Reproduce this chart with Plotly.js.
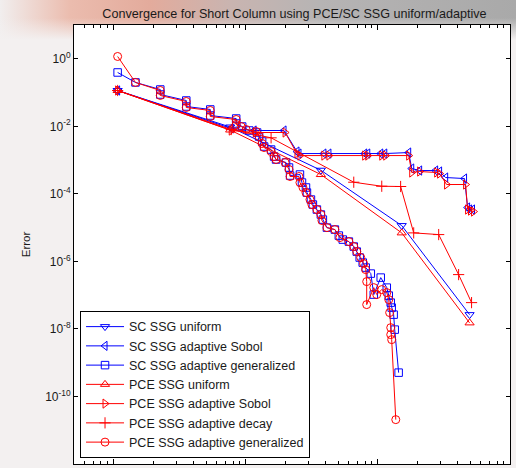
<!DOCTYPE html>
<html>
<head>
<meta charset="utf-8">
<script src="https://cdn.plot.ly/plotly-3.0.1.min.js"></script>
<style>
  html, body { margin: 0; padding: 0; }
  body {
    width: 516px; height: 468px; overflow: hidden;
    background:
      linear-gradient(to bottom, rgba(255,255,255,0) 0px, rgba(255,255,255,0) 18px, rgba(243,240,240,1) 40px),
      linear-gradient(to right, #f1eeee 0px, #ebbcae 70px, #e3ab9c 150px, #c9b4b0 230px, #b6b4b4 320px, #a9a9a9 516px);
  }
  #chart { width: 516px; height: 468px; }
</style>
</head>
<body>
<div id="chart"></div>
<script>
// ---- data (x = number of evaluations, y = error) ----
const scUniformX = [10.7, 76.1, 369.8, 1514, 4943];
const scUniformY = [0.115, 0.00953, 0.000500, 1.15e-5, 2.65e-8];

const pceUniformX = [10.7, 76.1, 369.8, 1514, 4943];
const pceUniformY = [0.115, 0.00777, 0.000373, 6.98e-6, 1.51e-8];

const scSobolX = [10.7, 77.5, 115.5, 194.6, 243.9, 252.5, 389.9, 425.6, 794.3, 837.5, 1050, 1127, 1710, 1803, 2070, 2735, 2931, 3258, 4529, 4775, 4943, 5200];
const scSobolY = [0.115, 0.00861, 0.00751, 0.00751, 0.00179, 0.00156, 0.00156, 0.00156, 0.00156, 0.00156, 0.00156, 0.00156, 0.00167, 0.000562, 0.000490, 0.000490, 0.000458, 0.000304, 0.000284, 3.93e-5, 3.43e-5, 3.43e-5];

const pceSobolX = [10.7, 77.5, 118, 198.2, 243.9, 256.8, 389.9, 425.6, 794.3, 837.5, 1069, 1146, 1710, 1803, 2070, 2786, 2931, 3311, 4613, 4775, 5023, 5297];
const pceSobolY = [0.115, 0.00751, 0.00655, 0.00655, 0.00156, 0.00136, 0.00136, 0.00136, 0.00136, 0.00136, 0.00136, 0.00136, 0.00136, 0.000428, 0.000458, 0.000428, 0.000399, 0.000189, 0.000189, 3.43e-5, 3.20e-5, 2.99e-5];

const pceDecayX = [10.7, 77.5, 155.3, 656.1, 1069, 1486, 1866, 2884, 4083, 5117];
const pceDecayY = [0.115, 0.00804, 0.00456, 0.000221, 0.000168, 0.000165, 6.98e-6, 6.22e-6, 4.06e-7, 6.01e-8];

const scGenX = [10.7, 14.6, 22.5, 22.5, 35.4, 35.4, 53.8, 53.8, 84.5, 84.5, 93.8, 106, 121.7, 126, 132.8, 137.5, 155.3, 163.7, 169.4, 201.4, 212.3, 216.3, 256.8, 266.1, 285.3, 290.2, 311.1, 321.8, 345.1, 369.8, 383, 411.1, 472.1, 505.8, 542, 602.6, 656.1, 691.8, 727.8, 767.4, 808.1, 883.1, 930.6, 1050, 1167, 1208, 1250, 1271, 1315, 1340, 1435];
const scGenY = [0.393, 0.199, 0.123, 0.0875, 0.0581, 0.0386, 0.0315, 0.0209, 0.0170, 0.0121, 0.00985, 0.00751, 0.00655, 0.00499, 0.00355, 0.00252, 0.00205, 0.00127, 0.00104, 0.000846, 0.000601, 0.000348, 0.000373, 0.000216, 0.000154, 0.000109, 6.78e-5, 4.82e-5, 3.43e-5, 2.44e-5, 1.73e-5, 1.00e-5, 8.75e-6, 5.81e-6, 4.42e-6, 3.86e-6, 2.75e-6, 1.95e-6, 1.30e-6, 9.21e-7, 6.55e-7, 4.35e-7, 1.04e-7, 3.31e-7, 1.67e-7, 9.70e-8, 6.01e-8, 4.28e-8, 2.65e-8, 9.53e-9, 5.07e-10];

const pceGenX = [10.7, 14.6, 22.5, 22.5, 35.4, 35.4, 53.8, 53.8, 84.5, 84.5, 92.2, 100.5, 119.7, 126, 132.8, 137.5, 155.3, 163.7, 169.4, 198.2, 212.3, 216.3, 252.5, 256.8, 270.8, 285.3, 305.8, 316.2, 345.1, 369.8, 376.7, 411.1, 472.1, 515.2, 602.6, 656.1, 691.8, 741.3, 779.8, 808.1, 822.2, 822.2, 930.6, 979.5, 1069, 1167, 1208, 1227, 1250, 1250, 1271, 1365];
const pceGenY = [1.17, 0.199, 0.115, 0.0818, 0.0543, 0.0361, 0.0294, 0.0195, 0.0159, 0.0113, 0.00985, 0.00804, 0.00701, 0.00499, 0.00309, 0.00235, 0.00179, 0.00127, 0.00104, 0.000846, 0.000525, 0.000326, 0.000326, 0.000216, 0.000154, 0.000109, 6.78e-5, 4.82e-5, 3.43e-5, 2.44e-5, 1.62e-5, 1.00e-5, 8.75e-6, 5.07e-6, 3.86e-6, 2.75e-6, 1.95e-6, 1.30e-6, 8.61e-7, 5.71e-7, 2.52e-7, 5.25e-8, 1.67e-7, 1.04e-7, 1.46e-7, 1.19e-7, 7.38e-8, 3.04e-8, 1.09e-8, 6.78e-9, 4.82e-9, 2.06e-11];

const seriesNames = ["SC SSG uniform", "SC SSG adaptive Sobol", "SC SSG adaptive generalized",
                     "PCE SSG uniform", "PCE SSG adaptive Sobol", "PCE SSG adaptive decay", "PCE SSG adaptive generalized"];
const yTickVals = [1e-12, 1e-10, 1e-8, 1e-6, 1e-4, 1e-2, 1e0];
const yTickText = ["10<sup>-12</sup>", "10<sup>-10</sup>", "10<sup>-8</sup>", "10<sup>-6</sup>", "10<sup>-4</sup>", "10<sup>-2</sup>", "10<sup>0</sup>"];

const BLUE = "#0000ff", RED = "#ff0000";
function tr(x, y, name, color, symbol, size) {
  return {
    x: x, y: y, name: name, type: "scatter", mode: "lines+markers",
    line: { color: color, width: 1 },
    marker: { symbol: symbol, size: size, color: color, line: { color: color, width: 1 } }
  };
}
const data = [
  tr(scUniformX, scUniformY, seriesNames[0], BLUE, "triangle-down-open", 8),
  tr(scSobolX, scSobolY, seriesNames[1], BLUE, "triangle-left-open", 8),
  tr(scGenX, scGenY, seriesNames[2], BLUE, "square-open", 7.5),
  tr(pceUniformX, pceUniformY, seriesNames[3], RED, "triangle-up-open", 8),
  tr(pceSobolX, pceSobolY, seriesNames[4], RED, "triangle-right-open", 8),
  tr(pceDecayX, pceDecayY, seriesNames[5], RED, "cross-thin-open", 8),
  tr(pceGenX, pceGenY, seriesNames[6], RED, "circle-open", 8)
];

const layout = {
  width: 516, height: 468,
  margin: { l: 74, r: 6, t: 25, b: 4 },
  paper_bgcolor: "rgba(0,0,0,0)",
  plot_bgcolor: "#ffffff",
  font: { family: "Liberation Sans, Arial, sans-serif", size: 12, color: "#1a1a1a" },
  title: { text: "Convergence for Short Column using PCE/SC SSG uniform/adaptive",
           font: { size: 12.6, color: "#1a1a1a" }, x: 0.5707, xanchor: "center", y: 0.972, yanchor: "middle" },
  showlegend: true,
  legend: {
    x: 0.0138, y: 0.0137, xanchor: "left", yanchor: "bottom",
    bgcolor: "#ffffff", bordercolor: "#000000", borderwidth: 1,
    font: { size: 12.5, color: "#1a1a1a" }, itemwidth: 38, tracegroupgap: 0
  },
  xaxis: {
    type: "log", range: [Math.log10(5), 4], dtick: 1,
    showgrid: false, zeroline: false, showline: true, linecolor: "#000000", linewidth: 1,
    mirror: "ticks", ticks: "inside", ticklen: 5, tickcolor: "#000000",
    showticklabels: false,
    minor: { ticks: "inside", ticklen: 3, tickcolor: "#000000", showgrid: false }
  },
  yaxis: {
    type: "log", range: [-12, 1],
    tickvals: yTickVals, ticktext: yTickText,
    showgrid: false, zeroline: false, showline: true, linecolor: "#000000", linewidth: 1,
    mirror: "ticks", ticks: "inside", ticklen: 4, tickcolor: "#000000",
    tickfont: { size: 12 },
    title: { text: "Error", font: { size: 11.5 }, standoff: 12 }
  }
};

Plotly.newPlot("chart", data, layout, { staticPlot: true, displayModeBar: false });
</script>
</body>
</html>
